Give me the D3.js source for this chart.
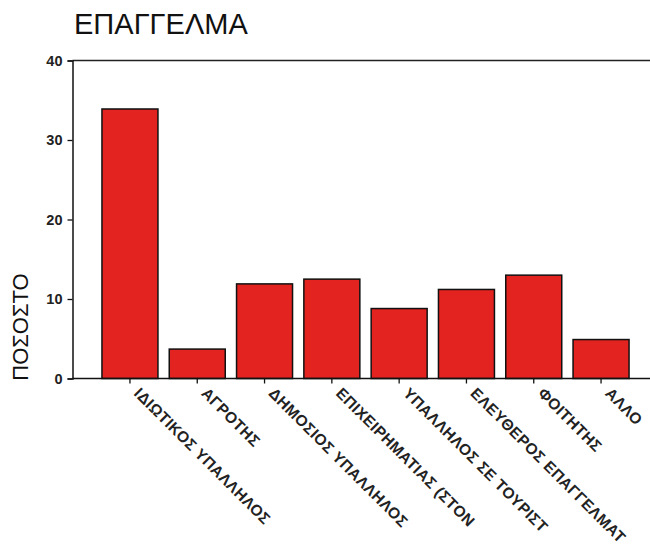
<!DOCTYPE html>
<html>
<head>
<meta charset="utf-8">
<script src="https://cdn.jsdelivr.net/npm/d3@7"></script>
<style>
  body { margin: 0; background: #fff; }
  svg { font-family: "Liberation Sans", Arial, sans-serif; }
</style>
</head>
<body>
<div id="chart"></div>
<script>
const categories = [
  'ΙΔΙΩΤΙΚΟΣ ΥΠΑΛΛΗΛΟΣ',
  'ΑΓΡΟΤΗΣ',
  'ΔΗΜΟΣΙΟΣ ΥΠΑΛΛΗΛΟΣ',
  'ΕΠΙΧΕΙΡΗΜΑΤΙΑΣ (ΣΤΟΝ',
  'ΥΠΑΛΛΗΛΟΣ ΣΕ ΤΟΥΡΙΣΤ',
  'ΕΛΕΥΘΕΡΟΣ ΕΠΑΓΓΕΛΜΑΤ',
  'ΦΟΙΤΗΤΗΣ',
  'ΑΛΛΟ',
];
const percents = [33.9, 3.7, 11.9, 12.5, 8.8, 11.2, 13.0, 4.9];
const yTicks = [0, 10, 20, 30, 40];

const width = 650;
const height = 550;

const svg = d3.select('#chart').append('svg')
  .attr('width', width)
  .attr('height', height);

const x = d3.scaleBand()
  .domain(categories)
  .range([96.3, 634.7])
  .paddingInner(0.168)
  .paddingOuter(0.084);

const y = d3.scaleLinear()
  .domain([0, 40])
  .range([378.5, 60.5]);

// frame lines: top and bottom run to the right edge
svg.append('line')
  .attr('x1', 72.5).attr('x2', width)
  .attr('y1', y(40)).attr('y2', y(40))
  .attr('stroke', '#222').attr('stroke-width', 1.3);

svg.append('g')
  .selectAll('rect')
  .data(percents)
  .join('rect')
  .attr('x', (d, i) => x(categories[i]))
  .attr('y', (d) => y(d))
  .attr('width', x.bandwidth())
  .attr('height', (d) => y(0) - y(d))
  .attr('fill', '#e2231f')
  .attr('stroke', '#111')
  .attr('stroke-width', 1.5);

// y axis
const yAxis = svg.append('g')
  .attr('transform', 'translate(72.5,0)')
  .call(d3.axisLeft(y).tickValues(yTicks).tickSize(5).tickPadding(5));
yAxis.select('.domain').attr('stroke', '#111').attr('stroke-width', 1.5);
yAxis.selectAll('.tick line').attr('stroke', '#111').attr('stroke-width', 1.3);
yAxis.selectAll('.tick text')
  .attr('font-size', 14.5)
  .attr('font-weight', 'bold')
  .attr('font-family', '"Liberation Sans", Arial, sans-serif')
  .attr('fill', '#222');

// x axis
const xAxis = svg.append('g')
  .attr('transform', `translate(0,${y(0)})`)
  .call(d3.axisBottom(x).tickSize(5).tickSizeOuter(0).tickFormat(''));
xAxis.select('.domain').remove();
xAxis.selectAll('.tick line').attr('stroke', '#111').attr('stroke-width', 1.3);

svg.append('line')
  .attr('x1', 72.5).attr('x2', width)
  .attr('y1', y(0)).attr('y2', y(0))
  .attr('stroke', '#111').attr('stroke-width', 1.5);

svg.append('g')
  .selectAll('text')
  .data(categories)
  .join('text')
  .attr('transform', (d) => `translate(${x(d) + x.bandwidth() / 2 + 7},${y(0) + 12}) rotate(45)`)
  .attr('dy', '0.35em')
  .attr('font-size', 15.5)
  .attr('font-weight', 'bold')
  .attr('letter-spacing', 0.4)
  .attr('fill', '#222')
  .text((d) => d);

// title
svg.append('text')
  .attr('x', 74)
  .attr('y', 34)
  .attr('font-size', 29)
  .attr('fill', '#111')
  .text('ΕΠΑΓΓΕΛΜΑ');

// y label
svg.append('text')
  .attr('transform', 'translate(28,327) rotate(-90)')
  .attr('text-anchor', 'middle')
  .attr('font-size', 22)
  .attr('fill', '#111')
  .text('ΠΟΣΟΣΤΟ');
</script>
</body>
</html>
